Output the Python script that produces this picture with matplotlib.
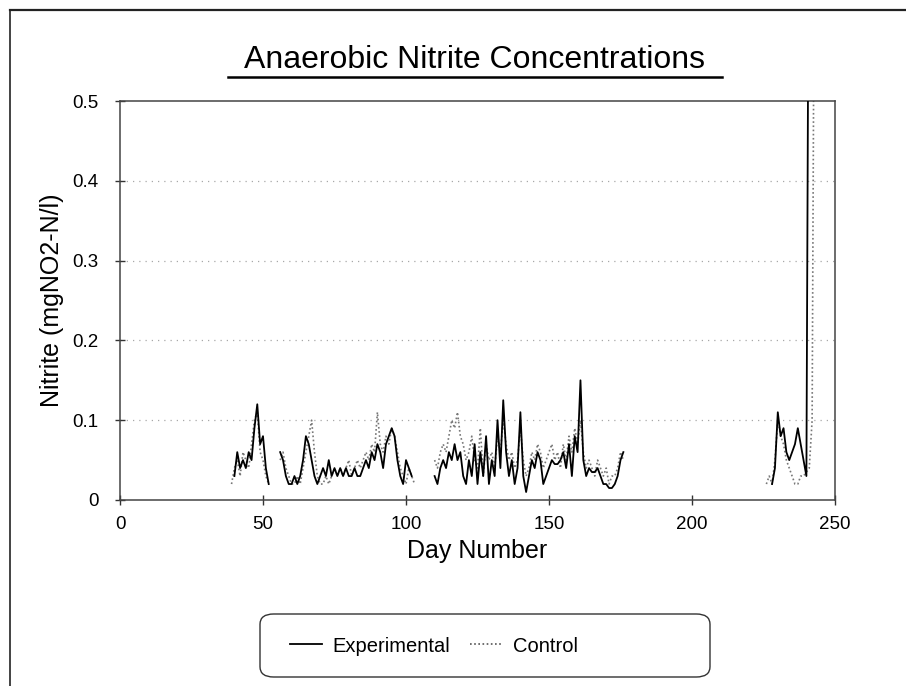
"""Anaerobic nitrite concentrations - experimental vs control reactor"""
import numpy as np
import matplotlib.pyplot as plt
from matplotlib.patches import FancyBboxPatch
from matplotlib.lines import Line2D

plt.rcParams['font.family'] = ['Liberation Sans', 'DejaVu Sans']

# Experimental reactor, daily readings per run (start day, values mgNO2-N/l)
exp_start = [40, 56, 110, 228]
exp_run1 = [0.03, 0.06, 0.04, 0.05, 0.04, 0.06, 0.05, 0.09, 0.12, 0.07, 0.08, 0.04, 0.02]
exp_run2 = [0.06, 0.05, 0.03, 0.02, 0.02, 0.03, 0.02, 0.03, 0.05, 0.08, 0.07, 0.05,
            0.03, 0.02, 0.03, 0.04, 0.03, 0.05, 0.03, 0.04, 0.03, 0.04, 0.03, 0.04,
            0.03, 0.03, 0.04, 0.03, 0.03, 0.04, 0.05, 0.04, 0.06, 0.05, 0.07, 0.06,
            0.04, 0.07, 0.08, 0.09, 0.08, 0.05, 0.03, 0.02, 0.05, 0.04, 0.03]
exp_run3 = [0.03, 0.02, 0.04, 0.05, 0.04, 0.06, 0.05, 0.07, 0.05, 0.06, 0.03, 0.02,
            0.05, 0.03, 0.07, 0.02, 0.06, 0.03, 0.08, 0.02, 0.05, 0.03, 0.10, 0.04,
            0.125, 0.06, 0.03, 0.05, 0.02, 0.04, 0.11, 0.03, 0.01, 0.03, 0.05, 0.04,
            0.06, 0.05, 0.02, 0.03, 0.04, 0.05, 0.045, 0.045, 0.05, 0.06, 0.04, 0.07,
            0.03, 0.08, 0.06, 0.15, 0.05, 0.03, 0.04, 0.035, 0.035, 0.04, 0.03, 0.02,
            0.02, 0.015, 0.015, 0.02, 0.03, 0.05, 0.06]
exp_run4 = [0.02, 0.04, 0.11, 0.08, 0.09, 0.06, 0.05, 0.06, 0.07, 0.09, 0.07, 0.05,
            0.03, 0.9]

# Control reactor
ctl_start = [39, 56, 110, 226]
ctl_run1 = [0.02, 0.04, 0.05, 0.03, 0.06, 0.05, 0.04, 0.07, 0.10, 0.11, 0.06, 0.05,
            0.03, 0.02]
ctl_run2 = [0.05, 0.06, 0.04, 0.03, 0.02, 0.02, 0.03, 0.02, 0.04, 0.06, 0.08, 0.10,
            0.06, 0.03, 0.02, 0.02, 0.03, 0.02, 0.03, 0.04, 0.03, 0.04, 0.03, 0.04,
            0.05, 0.03, 0.04, 0.05, 0.04, 0.05, 0.06, 0.05, 0.07, 0.06, 0.11, 0.07,
            0.06, 0.08, 0.07, 0.09, 0.08, 0.06, 0.04, 0.03, 0.02, 0.04, 0.03, 0.02]
ctl_run3 = [0.05, 0.04, 0.06, 0.07, 0.06, 0.08, 0.10, 0.09, 0.11, 0.08, 0.07, 0.05,
            0.06, 0.08, 0.05, 0.04, 0.09, 0.03, 0.07, 0.05, 0.06, 0.04, 0.08, 0.06,
            0.10, 0.07, 0.05, 0.06, 0.04, 0.05, 0.09, 0.05, 0.03, 0.04, 0.06, 0.05,
            0.07, 0.06, 0.04, 0.05, 0.06, 0.07, 0.05, 0.06, 0.04, 0.07, 0.05, 0.08,
            0.06, 0.09, 0.07, 0.10, 0.06, 0.04, 0.05, 0.04, 0.03, 0.05, 0.04, 0.03,
            0.04, 0.02, 0.03, 0.03, 0.04, 0.06, 0.05]
ctl_run4 = [0.02, 0.03, 0.02, 0.05, 0.10, 0.08, 0.07, 0.05, 0.04, 0.03, 0.02, 0.02,
            0.03, 0.03, 0.035, 0.04, 0.10, 0.9]

yticks = [0, 0.1, 0.2, 0.3, 0.4, 0.5]
ytick_labels = ['0', '0.1', '0.2', '0.3', '0.4', '0.5']
xticks = [0, 50, 100, 150, 200, 250]


def join_runs(starts, runs):
    """Put runs end to end with a NaN between them so the line breaks at the gaps"""
    days, vals = [], []
    for s, r in zip(starts, runs):
        days += list(s + np.arange(len(r))) + [np.nan]
        vals += list(r) + [np.nan]
    return np.array(days, dtype=float), np.array(vals, dtype=float)


exp_day, exp_val = join_runs(exp_start, [exp_run1, exp_run2, exp_run3, exp_run4])
ctl_day, ctl_val = join_runs(ctl_start, [ctl_run1, ctl_run2, ctl_run3, ctl_run4])

fig = plt.figure(figsize=(9.06, 6.86), dpi=100)
ax = fig.add_axes([120 / 906, 1 - 500 / 686, 715 / 906, 399 / 686])

# faint dotted gridlines like the original print
for y in yticks[1:-1]:
    ax.axhline(y, color='#a8a8a8', lw=0.9, ls=(0, (1, 4)), zorder=1)

ax.plot(ctl_day, ctl_val, color='#777777', lw=1.2, ls=(0, (1, 1.5)), zorder=2)
ax.plot(exp_day, exp_val, color='black', lw=1.3, zorder=3)

ax.set_xlim(0, 250)
ax.set_ylim(0, 0.5)
ax.set_xticks(xticks)
ax.set_yticks(yticks)
ax.set_yticklabels(ytick_labels)
ax.tick_params(axis='both', direction='inout', length=7, width=1, labelsize=13.5,
               color='#333333')
ax.tick_params(axis='x', pad=8)
ax.tick_params(axis='y', pad=12)
for sp in ax.spines.values():
    sp.set_color('#444444')
    sp.set_linewidth(1.1)

ax.set_xlabel('Day Number', fontsize=18, labelpad=4)
ax.set_ylabel('Nitrite (mgNO2-N/l)', fontsize=18, labelpad=6)

fig.text(475 / 906, 1 - 60 / 686, 'Anaerobic Nitrite Concentrations',
         ha='center', va='center', fontsize=23)
fig.add_artist(Line2D([228 / 906, 722 / 906], [1 - 77 / 686, 1 - 77 / 686],
                      color='black', lw=1.8))

# legend in rounded box under the chart
fig.add_artist(FancyBboxPatch((260 / 906, 1 - 677 / 686), 450 / 906, 63 / 686,
                              boxstyle='round,pad=0,rounding_size=0.015',
                              transform=fig.transFigure, fill=False,
                              ec='#333333', lw=1.0))
handles = [Line2D([], [], color='black', lw=1.3),
           Line2D([], [], color='#555555', lw=1.2, ls=(0, (1, 1.5)))]
fig.legend(handles, ['Experimental', 'Control'], loc='center left',
           bbox_to_anchor=(272 / 906, 1 - 646 / 686), ncol=2, frameon=False,
           fontsize=14.5, handlelength=1.6, columnspacing=1.0, handletextpad=0.5)

# scanned page border
fig.add_artist(Line2D([10 / 906, 1.0], [1 - 10 / 686, 1 - 10 / 686], color='#222222', lw=1.6))
fig.add_artist(Line2D([10 / 906, 10 / 906], [1 - 10 / 686, 0], color='#222222', lw=1.2))

fig.savefig('out.png', dpi=100)
